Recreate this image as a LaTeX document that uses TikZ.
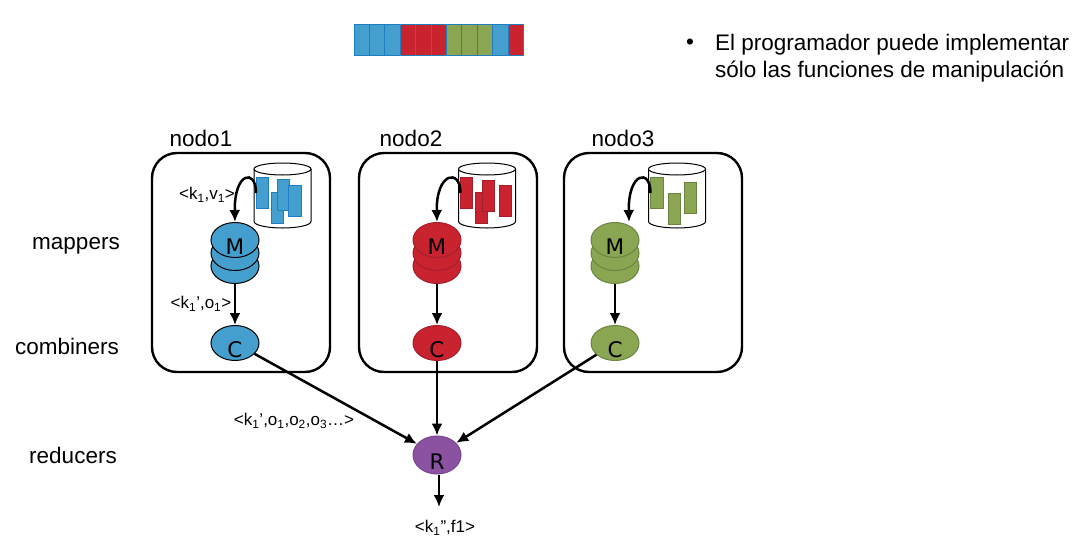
\documentclass[tikz,border=0pt]{standalone}
\usepackage{fontspec}
\setmainfont{Liberation Sans}
\newfontfamily\letterfont{DejaVu Sans}
\usetikzlibrary{arrows.meta,shapes.geometric}
\definecolor{tblue}{HTML}{459FCE}
\definecolor{tblueedge}{HTML}{1E7FC0}
\definecolor{tred}{HTML}{C8232F}
\definecolor{tredge}{HTML}{A51F2B}
\definecolor{tgreen}{HTML}{8BA652}
\definecolor{tgreenedge}{HTML}{6B8440}
\definecolor{tpurple}{HTML}{8B52A1}
\definecolor{tpurpleedge}{HTML}{7A4790}
\newcommand{\lowtext}[1]{\raisebox{-14.5pt}[0pt][0pt]{#1}}
\tikzset{
  nodebox/.style={draw=black,line width=2.4pt,rounded corners=25pt,minimum width=178pt,minimum height=219pt,inner sep=0pt},
  disc/.style={ellipse,draw=#1,line width=1pt,minimum width=48pt,minimum height=35pt,inner sep=0pt,font=\letterfont\fontsize{21.5}{21.5}\selectfont},
  drum/.style={draw=black,fill=white,line width=1pt},
  flow/.style={-{Latex[length=12pt,width=11pt]},line width=2.5pt},
  side/.style={font=\fontsize{22.5}{22.5}\selectfont},
  kv/.style={font=\fontsize{17}{17}\selectfont,inner sep=0pt},
}
\begin{document}
\begin{tikzpicture}[x=1pt,y=-1pt]
  \useasboundingbox (0,0) rectangle (1076,554);
  % Input split into records
  \foreach \i/\col in {0/tblue,1/tblue,2/tblue,3/tred,4/tred,5/tred,6/tgreen,7/tgreen,8/tgreen,9/tblue,10/tred} {
    \draw[tblueedge,fill=\col,line width=1pt] (354+15.4*\i,24) rectangle +(15.4,31);
  }
  % Text on the right
  \node[font=\fontsize{22.5}{22.5}\selectfont,inner sep=0pt] (bullet) at (690,44) {•};
  \node[font=\fontsize{22.5}{27}\selectfont,align=left,anchor=west,inner sep=0pt] (note) at (715,58) {El programador puede implementar\\sólo las funciones de manipulación};
  % Row names
  \node[side] (mappers) at (76,246) {mappers};
  \node[side] (combiners) at (67,346) {combiners};
  \node[side] (reducers) at (73,455) {reducers};
  % The three machines
  \foreach \n/\bx/\cx/\sx/\tx/\col/\edge in {1/241/235/282.5/201/tblue/black,2/448/437/487/411/tred/tredge,3/653/615/677/623/tgreen/tgreenedge} {
    \node[nodebox] (box\n) at (\bx,262.5) {};
    \node[side] (name\n) at (\tx,138) {nodo\n};
    \draw[drum] (\sx-28.5,169) -- (\sx-28.5,221.5)
      .. controls (\sx-28.5,225.1) and (\sx-15.7,228) .. (\sx,228)
      .. controls (\sx+15.7,228) and (\sx+28.5,225.1) .. (\sx+28.5,221.5)
      -- (\sx+28.5,169);
    \draw[drum] (\sx,169) ellipse [x radius=28.5,y radius=6];
    \coordinate (db\n) at (\sx-26.5,193);
    \node[disc=\edge,fill=\col] (low\n) at (\cx,266) {};
    \node[disc=\edge,fill=\col] (mid\n) at (\cx,253) {};
    \node[disc=\edge,fill=\col] (M\n) at (\cx,240) {\lowtext{M}};
    \node[disc=\edge,fill=\col] (C\n) at (\cx,343) {\lowtext{C}};
    \draw[flow] (low\n) -- (C\n);
  }
  % Records kept in each store
  \foreach \x/\y in {256/177,271/192,277/179,288.5/185} {
    \draw[tblueedge,fill=tblue,line width=1pt] (\x,\y) rectangle +(12.5,31);
  }
  \foreach \x/\y in {460/177,475/192,482/180,499/185} {
    \draw[tredge,fill=tred,line width=1pt] (\x,\y) rectangle +(12.5,31);
  }
  \foreach \x/\y in {650.5/177,668/193,684/182} {
    \draw[tgreenedge,fill=tgreen,line width=1pt] (\x,\y) rectangle +(12.5,31);
  }
  % Reading from the stores
  \draw[flow] (db1) .. controls +(0,-25) and +(-1,-50) .. (M1.north);
  \draw[flow] (db2) .. controls +(0,-25) and +(-1,-50) .. (M2.north);
  \draw[flow] (db3) .. controls +(0,-25) and +(-1,-50) .. ([xshift=14pt]M3.north);
  % Reducer
  \node[disc=tpurpleedge,fill=tpurple,minimum height=38pt] (R) at (437,455) {\lowtext{R}};
  \coordinate (out) at (439,507);
  \draw[flow] (C1) -- (R);
  \draw[flow] (C2) -- (R);
  \draw[flow] (C3) -- (R);
  \draw[flow] (R.south -| out) -- (out);
  % Key and value labels
  \node[kv] (kv1) at (207,195) {<k\textsubscript{1},v\textsubscript{1}>};
  \node[kv] (kv2) at (201,304) {<k\textsubscript{1}’,o\textsubscript{1}>};
  \node[kv] (kv3) at (294,421) {<k\textsubscript{1}’,o\textsubscript{1},o\textsubscript{2},o\textsubscript{3}…>};
  \node[kv] (kv4) at (445,528) {<k\textsubscript{1}”,f1>};
\end{tikzpicture}
\end{document}
